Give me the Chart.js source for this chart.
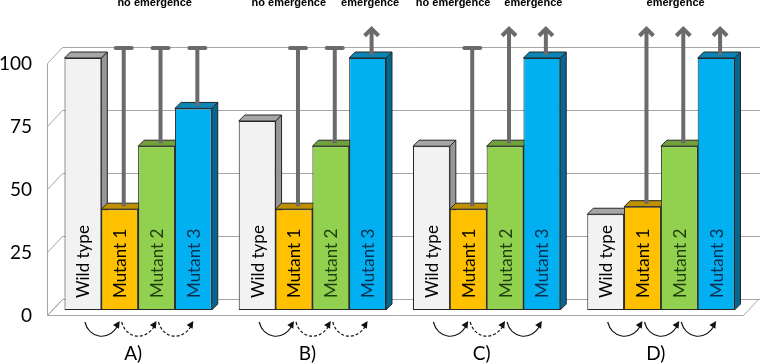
<!DOCTYPE html>
<html>
<head>
<meta charset="utf-8">
<script src="https://cdn.jsdelivr.net/npm/chart.js@4.4.1/dist/chart.umd.min.js"></script>
<style>
  html, body { margin: 0; padding: 0; background: #fff; }
  #wrap { width: 760px; height: 364px; position: relative; }
</style>
</head>
<body>
<div id="wrap"><canvas id="chart"></canvas></div>
<script>
const groups = ['A)', 'B)', 'C)', 'D)'];
const seriesNames = ['Wild type', 'Mutant 1', 'Mutant 2', 'Mutant 3'];
const wildType = [100, 75, 65, 38];
const mutant1 = [40, 40, 40, 41];
const mutant2 = [65, 65, 65, 65];
const mutant3 = [80, 100, 100, 100];
// 'no' = no emergence (capped line), 'yes' = emergence (arrow)
const mutant1Outcome = ['no', 'no', 'no', 'yes'];
const mutant2Outcome = ['no', 'no', 'yes', 'yes'];
const mutant3Outcome = ['no', 'yes', 'yes', 'yes'];
// curved arrows under each group, wild type -> m1 -> m2 -> m3
const transitions = [
  ['solid', 'dashed', 'dashed'],
  ['solid', 'dashed', 'dashed'],
  ['solid', 'dashed', 'solid'],
  ['solid', 'solid', 'solid']
];
const notes = [
  [0, 'no emergence', 2.45],
  [1, 'no emergence', 1.36],
  [1, 'emergence', 3.57],
  [2, 'no emergence', 1.09],
  [2, 'emergence', 3.27],
  [3, 'emergence', 2.4]
];
const yTicks = [0, 25, 50, 75, 100];
const capValue = 104;
const arrowValue = 112;

const DEPTH = 6;
const faces = [
  { front: '#f2f2f2', top: '#a6a6a6', side: '#979797', text: '#000000' },
  { front: '#ffc000', top: '#bf9000', side: '#9c7600', text: '#000000' },
  { front: '#92d050', top: '#70a13a', side: '#5a862c', text: '#1f3d0d' },
  { front: '#00b0f0', top: '#0b85b5', side: '#05668f', text: '#0c2c50' }
];
const outcomes = [null, mutant1Outcome, mutant2Outcome, mutant3Outcome];

function seg(ctx, x0, y0, x1, y1) {
  ctx.beginPath();
  ctx.moveTo(x0, y0);
  ctx.lineTo(x1, y1);
  ctx.stroke();
}

const box3d = {
  id: 'box3d',
  beforeDatasetsDraw(chart) {
    const { ctx, scales: { y }, chartArea } = chart;
    const ax = 47.5, bx = 62.5;
    const f0 = Math.round(y.getPixelForValue(0)) + 0.5;
    ctx.save();
    ctx.strokeStyle = '#a6a6a6';
    ctx.lineWidth = 1;
    // floor
    ctx.beginPath();
    ctx.moveTo(ax, f0 + 5);
    ctx.lineTo(bx, f0 - 11);
    ctx.lineTo(chartArea.right + 10.5, f0 - 11);
    ctx.lineTo(chartArea.right - 4.5, f0 + 5);
    ctx.closePath();
    ctx.fillStyle = '#fff';
    ctx.fill();
    ctx.stroke();
    yTicks.forEach((v) => {
      const p = Math.round(y.getPixelForValue(v)) + 0.5;
      seg(ctx, ax, p + 5, bx, p - 11);
      seg(ctx, bx, p - 11, 760, p - 11);
    });
    seg(ctx, ax, Math.round(y.getPixelForValue(100)) + 5.5, ax, f0 + 5);

    // side and top faces, left to right so the next front covers them
    ctx.strokeStyle = '#262626';
    seriesNames.forEach((name, s) => {
      const c = faces[s];
      chart.getDatasetMeta(s).data.forEach((bar) => {
        const x0 = bar.x - bar.width / 2, x1 = bar.x + bar.width / 2;
        const top = bar.y, base = bar.base;
        ctx.beginPath();
        ctx.moveTo(x1, top);
        ctx.lineTo(x1 + DEPTH, top - DEPTH);
        ctx.lineTo(x1 + DEPTH, base - DEPTH);
        ctx.lineTo(x1, base);
        ctx.closePath();
        ctx.fillStyle = c.side;
        ctx.fill();
        ctx.stroke();
        ctx.beginPath();
        ctx.moveTo(x0, top);
        ctx.lineTo(x0 + DEPTH, top - DEPTH);
        ctx.lineTo(x1 + DEPTH, top - DEPTH);
        ctx.lineTo(x1, top);
        ctx.closePath();
        ctx.fillStyle = c.top;
        ctx.fill();
        ctx.stroke();
      });
    });
    ctx.restore();
  },
  afterDatasetsDraw(chart) {
    const { ctx, scales: { y } } = chart;
    ctx.save();
    // names inside bars
    ctx.font = '17px Lato';
    ctx.textAlign = 'left';
    ctx.textBaseline = 'middle';
    seriesNames.forEach((name, s) => {
      chart.getDatasetMeta(s).data.forEach((bar) => {
        ctx.save();
        ctx.translate(bar.x, bar.base - 12);
        ctx.rotate(-Math.PI / 2);
        ctx.fillStyle = faces[s].text;
        ctx.fillText(name, 0, 1);
        ctx.restore();
      });
    });
    // emergence lines
    ctx.strokeStyle = '#6b6b6b';
    ctx.lineWidth = 4;
    const yCap = y.getPixelForValue(capValue);
    const yTip = y.getPixelForValue(arrowValue);
    outcomes.forEach((list, s) => {
      if (!list) return;
      chart.getDatasetMeta(s).data.forEach((bar, g) => {
        const x = bar.x + 4;
        const y0 = bar.y - 3;
        if (list[g] === 'no') {
          ctx.lineCap = 'butt';
          seg(ctx, x, y0, x, yCap);
          ctx.lineCap = 'round';
          seg(ctx, x - 8, yCap, x + 8, yCap);
        } else {
          ctx.lineCap = 'butt';
          seg(ctx, x, y0, x, yTip + 1);
          ctx.lineJoin = 'miter';
          ctx.beginPath();
          ctx.moveTo(x - 7, yTip + 8);
          ctx.lineTo(x, yTip + 1);
          ctx.lineTo(x + 7, yTip + 8);
          ctx.stroke();
        }
      });
    });
    ctx.restore();
  },
  afterDraw(chart) {
    const { ctx } = chart;
    ctx.save();
    ctx.fillStyle = '#000';
    ctx.font = 'bold 11px "Liberation Sans"';
    ctx.textAlign = 'center';
    ctx.textBaseline = 'alphabetic';
    notes.forEach(([g, text, slot]) => {
      const bar = chart.getDatasetMeta(0).data[g];
      const left = bar.x - bar.width / 2;
      ctx.fillText(text, left + slot * bar.width, 6);
    });
    // curved arrows under each group
    ctx.strokeStyle = '#111';
    ctx.lineWidth = 1.2;
    transitions.forEach((steps, g) => {
      steps.forEach((style, k) => {
        const a = chart.getDatasetMeta(k).data[g];
        const b = chart.getDatasetMeta(k + 1).data[g];
        const x0 = a.x + 2, x1 = b.x;
        ctx.setLineDash(style === 'dashed' ? [3, 2] : []);
        ctx.beginPath();
        ctx.moveTo(x0, 322);
        ctx.bezierCurveTo(x0 + 4, 338, x1 - 12, 342, x1 - 2, 326);
        ctx.stroke();
        ctx.setLineDash([]);
        const ang = Math.atan2(326 - 342, 10);
        const tx = x1, ty = 321;
        ctx.beginPath();
        ctx.moveTo(tx, ty);
        ctx.lineTo(tx - 7 * Math.cos(ang) + 3.5 * Math.sin(ang), ty - 7 * Math.sin(ang) - 3.5 * Math.cos(ang));
        ctx.lineTo(tx - 7 * Math.cos(ang) - 3.5 * Math.sin(ang), ty - 7 * Math.sin(ang) + 3.5 * Math.cos(ang));
        ctx.closePath();
        ctx.fillStyle = '#111';
        ctx.fill();
      });
    });
    ctx.restore();
  }
};

const seriesData = [wildType, mutant1, mutant2, mutant3];

new Chart(document.getElementById('chart'), {
  type: 'bar',
  data: {
    labels: groups,
    datasets: seriesData.map((d, i) => ({
      label: seriesNames[i],
      data: d,
      backgroundColor: faces[i].front,
      borderColor: '#262626',
      borderWidth: 1,
      borderSkipped: false,
      clip: false,
      categoryPercentage: 0.845,
      barPercentage: 1
    }))
  },
  options: {
    responsive: true,
    maintainAspectRatio: false,
    animation: false,
    layout: { padding: { top: 58, right: 12, left: 0, bottom: 0 } },
    plugins: { legend: { display: false }, tooltip: { enabled: false } },
    scales: {
      x: {
        grid: { display: false },
        border: { display: false },
        ticks: { color: '#000', font: { family: 'Lato', size: 19 }, padding: 24, labelOffset: -5 },
        afterFit: (axis) => { axis.height = 54; }
      },
      y: {
        min: 0,
        max: 100,
        grid: { display: false },
        border: { display: false },
        ticks: { stepSize: 25, color: '#000', font: { family: 'Lato', size: 19 }, padding: 11, labelOffset: 6 },
        afterFit: (axis) => { axis.width = 51; }
      }
    }
  },
  plugins: [box3d]
});
</script>
</body>
</html>
